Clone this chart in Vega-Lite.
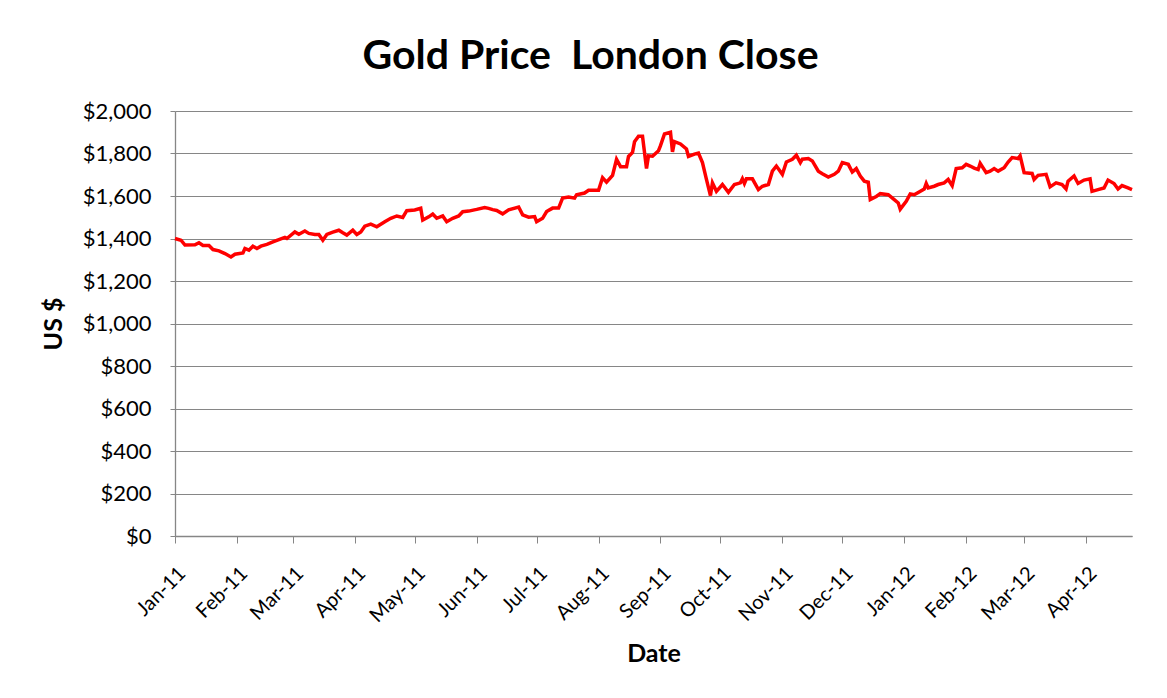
{
  "$schema": "https://vega.github.io/schema/vega-lite/v6.json",
  "width": 957,
  "height": 425,
  "autosize": {"type": "none"},
  "padding": {"left": 175, "top": 111, "right": 35, "bottom": 162},
  "background": "white",
  "title": {
    "text": "Gold Price \u00a0London Close",
    "font": "Lato",
    "fontSize": 41,
    "fontWeight": "bold",
    "color": "black",
    "anchor": "middle",
    "dx": -63,
    "offset": 22
  },
  "config": {
    "view": {"stroke": null},
    "axis": {
      "labelFont": "Lato",
      "titleFont": "Lato",
      "labelColor": "black",
      "titleColor": "black",
      "domainColor": "#868686",
      "tickColor": "#868686",
      "gridColor": "#868686",
      "gridWidth": 1,
      "domainWidth": 1.3
    }
  },
  "data": {
    "values": [
      {"date": "2011-01-01", "price": 1400},
      {"date": "2011-01-04", "price": 1392},
      {"date": "2011-01-06", "price": 1369},
      {"date": "2011-01-11", "price": 1370},
      {"date": "2011-01-13", "price": 1380},
      {"date": "2011-01-15", "price": 1367},
      {"date": "2011-01-18", "price": 1367},
      {"date": "2011-01-20", "price": 1348},
      {"date": "2011-01-23", "price": 1342},
      {"date": "2011-01-26", "price": 1329},
      {"date": "2011-01-29", "price": 1313},
      {"date": "2011-01-31", "price": 1326},
      {"date": "2011-02-04", "price": 1332},
      {"date": "2011-02-05", "price": 1353},
      {"date": "2011-02-07", "price": 1345},
      {"date": "2011-02-09", "price": 1364},
      {"date": "2011-02-11", "price": 1353},
      {"date": "2011-02-13", "price": 1364},
      {"date": "2011-02-16", "price": 1372},
      {"date": "2011-02-19", "price": 1384},
      {"date": "2011-02-22", "price": 1395},
      {"date": "2011-02-25", "price": 1405},
      {"date": "2011-02-26", "price": 1400},
      {"date": "2011-03-02", "price": 1431},
      {"date": "2011-03-04", "price": 1420},
      {"date": "2011-03-07", "price": 1435},
      {"date": "2011-03-09", "price": 1424},
      {"date": "2011-03-12", "price": 1419},
      {"date": "2011-03-14", "price": 1419},
      {"date": "2011-03-16", "price": 1392},
      {"date": "2011-03-18", "price": 1419},
      {"date": "2011-03-21", "price": 1430},
      {"date": "2011-03-24", "price": 1439},
      {"date": "2011-03-26", "price": 1427},
      {"date": "2011-03-28", "price": 1416},
      {"date": "2011-03-31", "price": 1439},
      {"date": "2011-04-02", "price": 1419},
      {"date": "2011-04-04", "price": 1431},
      {"date": "2011-04-06", "price": 1458},
      {"date": "2011-04-09", "price": 1468},
      {"date": "2011-04-12", "price": 1455},
      {"date": "2011-04-16", "price": 1479},
      {"date": "2011-04-19", "price": 1495},
      {"date": "2011-04-22", "price": 1506},
      {"date": "2011-04-25", "price": 1499},
      {"date": "2011-04-27", "price": 1531},
      {"date": "2011-05-01", "price": 1534},
      {"date": "2011-05-04", "price": 1542},
      {"date": "2011-05-05", "price": 1487},
      {"date": "2011-05-08", "price": 1502},
      {"date": "2011-05-10", "price": 1515},
      {"date": "2011-05-12", "price": 1495},
      {"date": "2011-05-15", "price": 1506},
      {"date": "2011-05-17", "price": 1479},
      {"date": "2011-05-20", "price": 1495},
      {"date": "2011-05-23", "price": 1506},
      {"date": "2011-05-25", "price": 1526},
      {"date": "2011-05-28", "price": 1529},
      {"date": "2011-06-01", "price": 1537},
      {"date": "2011-06-05", "price": 1546},
      {"date": "2011-06-07", "price": 1542},
      {"date": "2011-06-09", "price": 1536},
      {"date": "2011-06-11", "price": 1532},
      {"date": "2011-06-14", "price": 1516},
      {"date": "2011-06-17", "price": 1535},
      {"date": "2011-06-22", "price": 1548},
      {"date": "2011-06-24", "price": 1511},
      {"date": "2011-06-27", "price": 1500},
      {"date": "2011-06-30", "price": 1503},
      {"date": "2011-07-01", "price": 1479},
      {"date": "2011-07-04", "price": 1495},
      {"date": "2011-07-06", "price": 1527},
      {"date": "2011-07-09", "price": 1543},
      {"date": "2011-07-12", "price": 1543},
      {"date": "2011-07-14", "price": 1590},
      {"date": "2011-07-17", "price": 1595},
      {"date": "2011-07-20", "price": 1590},
      {"date": "2011-07-21", "price": 1606},
      {"date": "2011-07-25", "price": 1614},
      {"date": "2011-07-27", "price": 1627},
      {"date": "2011-08-01", "price": 1627},
      {"date": "2011-08-03", "price": 1686},
      {"date": "2011-08-05", "price": 1665},
      {"date": "2011-08-08", "price": 1697},
      {"date": "2011-08-10", "price": 1773},
      {"date": "2011-08-12", "price": 1738},
      {"date": "2011-08-15", "price": 1738},
      {"date": "2011-08-16", "price": 1786},
      {"date": "2011-08-18", "price": 1805},
      {"date": "2011-08-19", "price": 1855},
      {"date": "2011-08-21", "price": 1881},
      {"date": "2011-08-23", "price": 1881},
      {"date": "2011-08-25", "price": 1729},
      {"date": "2011-08-26", "price": 1789},
      {"date": "2011-08-28", "price": 1787},
      {"date": "2011-08-31", "price": 1813},
      {"date": "2011-09-01", "price": 1837},
      {"date": "2011-09-03", "price": 1892},
      {"date": "2011-09-06", "price": 1900},
      {"date": "2011-09-07", "price": 1808},
      {"date": "2011-09-08", "price": 1856},
      {"date": "2011-09-11", "price": 1845},
      {"date": "2011-09-14", "price": 1821},
      {"date": "2011-09-15", "price": 1786},
      {"date": "2011-09-18", "price": 1797},
      {"date": "2011-09-20", "price": 1802},
      {"date": "2011-09-22", "price": 1757},
      {"date": "2011-09-24", "price": 1678},
      {"date": "2011-09-26", "price": 1602},
      {"date": "2011-09-27", "price": 1662},
      {"date": "2011-09-29", "price": 1622},
      {"date": "2011-10-02", "price": 1654},
      {"date": "2011-10-05", "price": 1617},
      {"date": "2011-10-08", "price": 1654},
      {"date": "2011-10-11", "price": 1662},
      {"date": "2011-10-12", "price": 1681},
      {"date": "2011-10-13", "price": 1659},
      {"date": "2011-10-14", "price": 1681},
      {"date": "2011-10-17", "price": 1681},
      {"date": "2011-10-20", "price": 1630},
      {"date": "2011-10-22", "price": 1646},
      {"date": "2011-10-25", "price": 1654},
      {"date": "2011-10-27", "price": 1717},
      {"date": "2011-10-29", "price": 1741},
      {"date": "2011-11-01", "price": 1702},
      {"date": "2011-11-03", "price": 1760},
      {"date": "2011-11-06", "price": 1773},
      {"date": "2011-11-08", "price": 1792},
      {"date": "2011-11-10", "price": 1757},
      {"date": "2011-11-11", "price": 1773},
      {"date": "2011-11-14", "price": 1776},
      {"date": "2011-11-16", "price": 1765},
      {"date": "2011-11-19", "price": 1717},
      {"date": "2011-11-21", "price": 1705},
      {"date": "2011-11-24", "price": 1689},
      {"date": "2011-11-27", "price": 1702},
      {"date": "2011-11-29", "price": 1717},
      {"date": "2011-12-01", "price": 1757},
      {"date": "2011-12-04", "price": 1749},
      {"date": "2011-12-06", "price": 1713},
      {"date": "2011-12-08", "price": 1729},
      {"date": "2011-12-10", "price": 1694},
      {"date": "2011-12-12", "price": 1670},
      {"date": "2011-12-14", "price": 1665},
      {"date": "2011-12-15", "price": 1583},
      {"date": "2011-12-18", "price": 1598},
      {"date": "2011-12-20", "price": 1611},
      {"date": "2011-12-24", "price": 1606},
      {"date": "2011-12-27", "price": 1583},
      {"date": "2011-12-29", "price": 1567},
      {"date": "2011-12-30", "price": 1538},
      {"date": "2012-01-02", "price": 1575},
      {"date": "2012-01-04", "price": 1610},
      {"date": "2012-01-06", "price": 1606},
      {"date": "2012-01-08", "price": 1617},
      {"date": "2012-01-11", "price": 1633},
      {"date": "2012-01-12", "price": 1659},
      {"date": "2012-01-13", "price": 1638},
      {"date": "2012-01-16", "price": 1646},
      {"date": "2012-01-18", "price": 1654},
      {"date": "2012-01-21", "price": 1662},
      {"date": "2012-01-23", "price": 1678},
      {"date": "2012-01-25", "price": 1649},
      {"date": "2012-01-27", "price": 1729},
      {"date": "2012-01-30", "price": 1733},
      {"date": "2012-02-01", "price": 1749},
      {"date": "2012-02-03", "price": 1741},
      {"date": "2012-02-05", "price": 1731},
      {"date": "2012-02-07", "price": 1725},
      {"date": "2012-02-08", "price": 1754},
      {"date": "2012-02-11", "price": 1710},
      {"date": "2012-02-13", "price": 1717},
      {"date": "2012-02-15", "price": 1729},
      {"date": "2012-02-17", "price": 1717},
      {"date": "2012-02-20", "price": 1733},
      {"date": "2012-02-22", "price": 1760},
      {"date": "2012-02-24", "price": 1781},
      {"date": "2012-02-27", "price": 1776},
      {"date": "2012-02-28", "price": 1789},
      {"date": "2012-03-01", "price": 1710},
      {"date": "2012-03-05", "price": 1706},
      {"date": "2012-03-06", "price": 1678},
      {"date": "2012-03-08", "price": 1697},
      {"date": "2012-03-12", "price": 1702},
      {"date": "2012-03-14", "price": 1643},
      {"date": "2012-03-17", "price": 1662},
      {"date": "2012-03-20", "price": 1654},
      {"date": "2012-03-22", "price": 1633},
      {"date": "2012-03-23", "price": 1670},
      {"date": "2012-03-26", "price": 1694},
      {"date": "2012-03-28", "price": 1659},
      {"date": "2012-03-31", "price": 1675},
      {"date": "2012-04-03", "price": 1681},
      {"date": "2012-04-04", "price": 1622},
      {"date": "2012-04-07", "price": 1630},
      {"date": "2012-04-10", "price": 1638},
      {"date": "2012-04-12", "price": 1675},
      {"date": "2012-04-15", "price": 1659},
      {"date": "2012-04-17", "price": 1633},
      {"date": "2012-04-19", "price": 1649},
      {"date": "2012-04-22", "price": 1638},
      {"date": "2012-04-24", "price": 1630}
    ]
  },
  "mark": {"type": "line", "color": "#FF0000", "strokeWidth": 3.5, "interpolate": "linear"},
  "encoding": {
    "x": {
      "field": "date",
      "type": "temporal",
      "scale": {
        "type": "utc",
        "domain": [
          {"year": 2011, "month": 1, "date": 1, "utc": true},
          {"year": 2012, "month": 4, "date": 24, "utc": true}
        ]
      },
      "axis": {
        "title": "Date",
        "format": "%b-%y",
        "tickCount": {"interval": "month", "step": 1},
        "labelAngle": -45,
        "labelFontSize": 20,
        "labelPadding": 20,
        "tickSize": 7,
        "grid": false,
        "titleFontSize": 25,
        "titleFontWeight": "bold",
        "titlePadding": 16,
        "labelFlush": false,
        "labelOverlap": false
      }
    },
    "y": {
      "field": "price",
      "type": "quantitative",
      "scale": {"domain": [0, 2000], "nice": false, "zero": true},
      "axis": {
        "title": "US $",
        "values": [0, 200, 400, 600, 800, 1000, 1200, 1400, 1600, 1800, 2000],
        "format": "$,.0f",
        "labelFontSize": 22,
        "labelPadding": 19,
        "tickSize": 5,
        "grid": true,
        "titleFontSize": 25,
        "titleFontWeight": "bold",
        "titlePadding": 16
      }
    }
  }
}
